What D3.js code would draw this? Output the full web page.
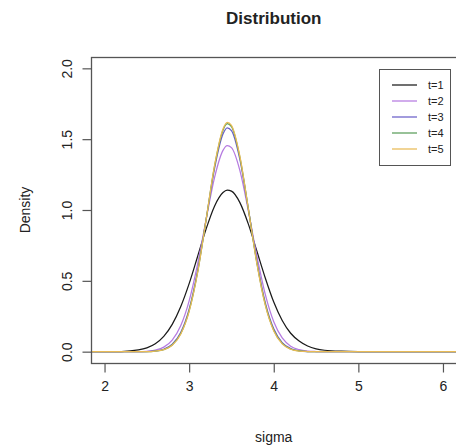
<!DOCTYPE html>
<html>
<head>
<meta charset="utf-8">
<script src="https://cdnjs.cloudflare.com/ajax/libs/d3/7.8.5/d3.min.js"></script>
<style>
  body { margin: 0; background: #fff; }
  text { font-family: "Liberation Sans", Arial, sans-serif; fill: #222; }
</style>
</head>
<body>
<div id="chart"></div>
<script>
// sigma grid and densities
var sigma = [1.8, 2.0, 2.2, 2.4, 2.5, 2.6, 2.7, 2.8, 2.9, 3.0, 3.1, 3.2, 3.3, 3.4, 3.45, 3.5,
             3.6, 3.7, 3.8, 3.9, 4.0, 4.1, 4.2, 4.3, 4.4, 4.5, 4.6, 4.8, 5.0, 5.5, 6.0, 6.2];

var dens_t1 = [0, 0, 0.001, 0.012, 0.027, 0.056, 0.108, 0.193, 0.317, 0.48, 0.672, 0.865, 1.027, 1.123, 1.14, 1.133,
               1.052, 0.90, 0.711, 0.52, 0.35, 0.22, 0.13, 0.075, 0.04, 0.02, 0.01, 0.003, 0.001, 0, 0, 0];
var dens_t2 = [0, 0, 0, 0, 0.002, 0.011, 0.032, 0.082, 0.183, 0.359, 0.618, 0.931, 1.229, 1.421, 1.455, 1.44,
               1.278, 0.994, 0.678, 0.404, 0.211, 0.097, 0.039, 0.014, 0.004, 0.001, 0, 0, 0, 0, 0, 0];
var dens_t3 = [0, 0, 0, 0, 0.001, 0.005, 0.017, 0.052, 0.135, 0.30, 0.571, 0.93, 1.292, 1.536, 1.58, 1.56,
               1.355, 1.006, 0.638, 0.346, 0.161, 0.064, 0.022, 0.006, 0.001, 0, 0, 0, 0, 0, 0, 0];
var dens_t4 = [0, 0, 0, 0, 0, 0.004, 0.015, 0.047, 0.126, 0.288, 0.561, 0.93, 1.308, 1.563, 1.609, 1.589,
               1.372, 1.008, 0.629, 0.334, 0.151, 0.058, 0.019, 0.005, 0.001, 0, 0, 0, 0, 0, 0, 0];
var dens_t5 = [0, 0, 0, 0, 0, 0.004, 0.014, 0.045, 0.123, 0.284, 0.557, 0.93, 1.313, 1.572, 1.619, 1.598,
               1.378, 1.007, 0.624, 0.328, 0.146, 0.055, 0.017, 0.004, 0.001, 0, 0, 0, 0, 0, 0, 0];

var series_names = ["t=1", "t=2", "t=3", "t=4", "t=5"];
var series_colors = ["#1a1a1a", "#b57ae0", "#6a5fc8", "#5a9e5a", "#e9bb55"];

var x_ticks = [2, 3, 4, 5, 6];
var y_ticks = [0, 0.5, 1.0, 1.5, 2.0];

var width = 456,
    height = 448;

var plot_left = 91, plot_right = 456.5,
    plot_top = 57, plot_bottom = 363;

var svg = d3.select("#chart").append("svg")
  .attr("width", width)
  .attr("height", height);

var x = d3.scaleLinear().domain([1.84, 6.16]).range([plot_left, plot_right]);
var y = d3.scaleLinear().domain([-0.08, 2.08]).range([plot_bottom, plot_top]);

// clip for the curves
svg.append("clipPath").attr("id", "clip")
  .append("rect")
  .attr("x", plot_left).attr("y", plot_top)
  .attr("width", plot_right - plot_left).attr("height", plot_bottom - plot_top);

var all_series = [dens_t1, dens_t2, dens_t3, dens_t4, dens_t5];

var line = d3.line()
  .x(function(d) { return x(d[0]); })
  .y(function(d) { return y(d[1]); })
  .curve(d3.curveMonotoneX);

var curves = svg.append("g").attr("clip-path", "url(#clip)");
all_series.forEach(function(vals, i) {
  curves.append("path")
    .datum(sigma.map(function(s, j) { return [s, vals[j]]; }))
    .attr("d", line)
    .attr("fill", "none")
    .attr("stroke", series_colors[i])
    .attr("stroke-width", 1.25);
});

// box
svg.append("rect")
  .attr("x", plot_left + 0.5).attr("y", plot_top + 0.5)
  .attr("width", plot_right - plot_left).attr("height", plot_bottom - plot_top)
  .attr("fill", "none")
  .attr("stroke", "#555")
  .attr("stroke-width", 1.3);

// axes
var xAxis = svg.append("g")
  .attr("transform", "translate(0," + (plot_bottom + 0.5) + ")")
  .call(d3.axisBottom(x).tickValues(x_ticks).tickFormat(d3.format("d")).tickSize(9).tickPadding(9));
var yAxis = svg.append("g")
  .attr("transform", "translate(" + (plot_left + 0.5) + ",0)")
  .call(d3.axisLeft(y).tickValues(y_ticks).tickFormat(d3.format(".1f")).tickSize(9).tickPadding(6));

[xAxis, yAxis].forEach(function(g) {
  g.select(".domain").remove();
  g.selectAll(".tick line").attr("stroke", "#555").attr("stroke-width", 1.2);
  g.selectAll(".tick text").style("font-size", "14px").attr("fill", "#333")
    .style("font-family", "'Liberation Sans', Arial, sans-serif");
});

yAxis.selectAll(".tick text")
  .attr("transform", "rotate(-90)")
  .attr("x", 0)
  .attr("dy", null)
  .attr("y", -20)
  .attr("text-anchor", "middle");

// titles
svg.append("text")
  .attr("x", (plot_left + plot_right) / 2)
  .attr("y", 24)
  .attr("text-anchor", "middle")
  .style("font-size", "17px")
  .style("font-weight", "bold")
  .text("Distribution");

svg.append("text")
  .attr("x", (plot_left + plot_right) / 2)
  .attr("y", 442)
  .attr("text-anchor", "middle")
  .style("font-size", "14px")
  .attr("fill", "#333")
  .text("sigma");

svg.append("text")
  .attr("transform", "translate(30," + ((plot_top + plot_bottom) / 2) + ") rotate(-90)")
  .attr("text-anchor", "middle")
  .style("font-size", "14px")
  .attr("fill", "#333")
  .text("Density");

// legend
var legend = svg.append("g").attr("transform", "translate(379,69)");
legend.append("rect")
  .attr("x", 0.5).attr("y", 0.5)
  .attr("width", 71).attr("height", 96)
  .attr("fill", "#fff")
  .attr("stroke", "#555");

series_names.forEach(function(name, i) {
  var yy = 16 + i * 16;
  legend.append("line")
    .attr("x1", 13).attr("x2", 38)
    .attr("y1", yy).attr("y2", yy)
    .attr("stroke", series_colors[i])
    .attr("stroke-width", 1.25);
  legend.append("text")
    .attr("x", 49).attr("y", yy + 4)
    .style("font-size", "11px")
    .attr("fill", "#333")
    .text(name);
});
</script>
</body>
</html>
